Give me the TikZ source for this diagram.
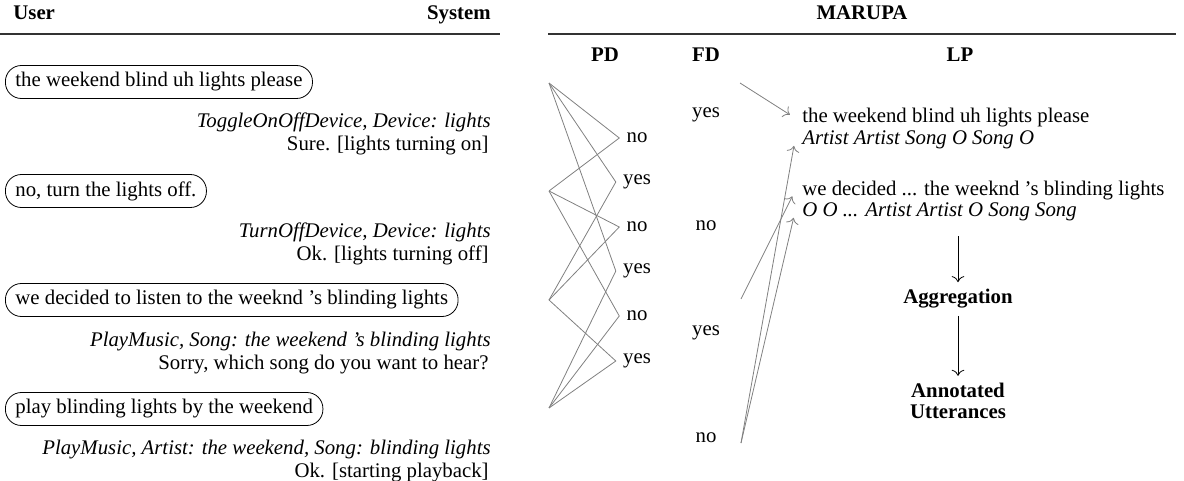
\documentclass[tikz,border=0pt]{standalone}
\usepackage{fontspec}
\setmainfont{Liberation Serif}[Scale=1.04]
\usetikzlibrary{arrows.meta,positioning}
\definecolor{linkgray}{HTML}{808080}
\definecolor{rulegray}{HTML}{333333}

\begin{document}
\begin{tikzpicture}[
  x=0.5pt,y=-0.5pt,
  head/.style={font=\bfseries,inner sep=0pt},
  utt/.style={draw,rounded corners=8pt,anchor=west,inner xsep=5pt,minimum height=16.5pt},
  intent/.style={font=\itshape,anchor=base east,inner sep=0pt},
  reply/.style={anchor=base east,inner sep=0pt},
  rule/.style={draw=rulegray,line width=0.6pt},
  pair/.style={draw=linkgray,line width=0.4pt},
  lpline/.style={anchor=west},
  link/.style={-{To[length=3pt]},draw=linkgray,line width=0.4pt,shorten >=3pt},
  arrow/.style={-{To[length=3pt]},thin,draw=black}
]
\useasboundingbox (0,0) rectangle (1184,481);
% left half: the dialogue
\node[head,anchor=base west] (user) at (13,20) {User};
\node[head,anchor=base east] (system) at (491,20) {System};
\draw[rule] (0,34) -- (500,34);
\node[utt] (u1) at (5,82) {the weekend blind uh lights please};
\node[intent] (i1) at (491,128) {ToggleOnOffDevice, Device: lights};
\node[reply] (r1) at (489,151) {Sure. [lights turning on]};
\node[utt] (u2) at (5,191) {no, turn the lights off.};
\node[intent] (i2) at (491,237) {TurnOffDevice, Device: lights};
\node[reply] (r2) at (489,260) {Ok. [lights turning off]};
\node[utt] (u3) at (5,300) {we decided to listen to the weeknd 's blinding lights};
\node[intent] (i3) at (491,346) {PlayMusic, Song: the weekend 's blinding lights};
\node[reply] (r3) at (489,369) {Sorry, which song do you want to hear?};
\node[utt] (u4) at (5,409) {play blinding lights by the weekend};
\node[intent] (i4) at (491,454) {PlayMusic, Artist: the weekend, Song: blinding lights};
\node[reply] (r4) at (489,477) {Ok. [starting playback]};

% right half: MARUPA
\node[head,anchor=base] (marupa) at (862,20) {MARUPA};
\draw[rule] (548,34) -- (1176,34);
\node[head,anchor=base] (pd) at (605,62) {PD};
\node[head,anchor=base] (fd) at (706,62) {FD};
\node[head,anchor=base] (lp) at (960,62) {LP};

% PD: one decision per pair of turns
\coordinate (p1) at (549,83);
\coordinate (p2) at (549,191);
\coordinate (p3) at (549,300);
\coordinate (p4) at (549,408);
\node (v1) at (637,138) {no};
\node (v2) at (637,182) {yes};
\node (v3) at (637,227) {no};
\node (v4) at (637,271) {yes};
\node (v5) at (637,316) {no};
\node (v6) at (637,361) {yes};
\draw[pair] (p1) -- (v1.west) -- (p2);
\draw[pair] (p1) -- (v2.west) -- (p3);
\draw[pair] (p2) -- (v3.west) -- (p3);
\draw[pair] (p1) -- (v4.west) -- (p4);
\draw[pair] (p2) -- (v5.west) -- (p4);
\draw[pair] (p3) -- (v6.west) -- (p4);

% FD
\node[anchor=base] (d1) at (706,118) {yes};
\node[anchor=base] (d2) at (706,230) {no};
\node[anchor=base] (d3) at (706,335) {yes};
\node[anchor=base] (d4) at (706,442) {no};

% LP
\node[lpline] (lp1) at (795,118) {the weekend blind uh lights please};
\node[lpline] (lp2) at (795,140) {\itshape Artist Artist Song O Song O};
\node[lpline] (lp3) at (795,191) {we decided ... the weeknd 's blinding lights};
\node[lpline] (lp4) at (795,212) {\itshape O O ... Artist Artist O Song Song};
\coordinate (f1) at (740,83);
\coordinate (f3) at (741,299);
\coordinate (f4) at (741,443);
\draw[link] (f1) -- (lp1.west);
\draw[link] (f4) -- (lp2.west);
\draw[link] (f3) -- (lp3.west);
\draw[link] (f4) -- (lp4.west);

\node[font=\bfseries] (agg) at (958,299) {Aggregation};
\node[font=\bfseries,align=center] (ann) at (958,401) {Annotated\\[-1.5pt]Utterances};
\draw[arrow,shorten <=4pt] (lp4.south -| agg.north) -- (agg.north);
\draw[arrow] (agg.south) -- (ann.north);
\end{tikzpicture}
\end{document}
